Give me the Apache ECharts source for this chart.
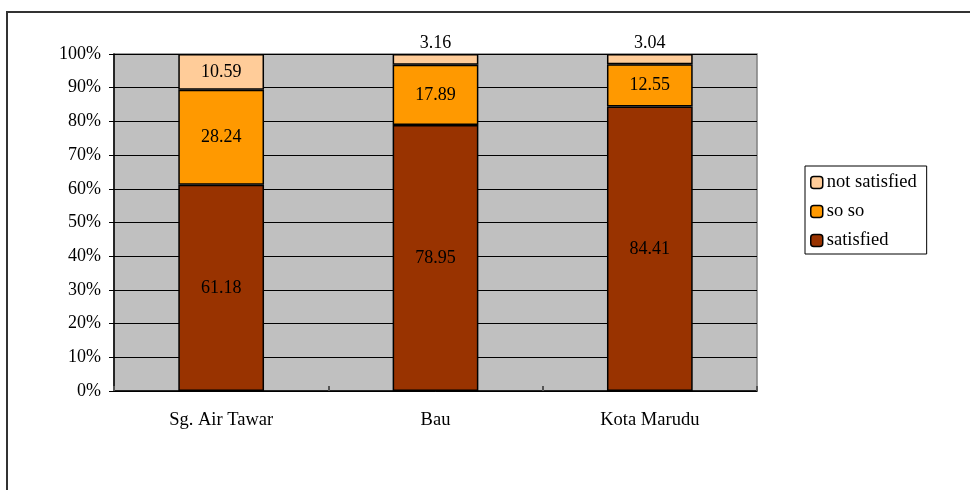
<!DOCTYPE html>
<html>
<head>
<meta charset="utf-8">
<script src="https://cdn.jsdelivr.net/npm/echarts@6/dist/echarts.min.js"></script>
<style>
  html, body { margin: 0; padding: 0; background: #fff; }
  #chart { width: 970px; height: 490px; }
</style>
</head>
<body>
<div id="chart"></div>
<script>
// Survey sites and satisfaction shares (percent)
const sites = ['Sg. Air Tawar', 'Bau', 'Kota Marudu'];
const satisfied = [61.18, 78.95, 84.41];
const soSo = [28.24, 17.89, 12.55];
const notSatisfied = [10.59, 3.16, 3.04];
const yTicks = [0, 10, 20, 30, 40, 50, 60, 70, 80, 90, 100];

const FONT = 'Liberation Serif';

// Small segments get their value printed above the bar
const notSatisfiedData = notSatisfied.map(v => ({
  value: v,
  label: v < 6 ? { position: 'top', distance: 2 } : { position: 'inside' }
}));

const chart = echarts.init(document.getElementById('chart'), null, { renderer: 'canvas' });

const barStyle = (color) => ({ color: color, borderColor: '#000', borderWidth: 1.5 });
const labelStyle = { show: true, position: 'inside', color: '#000', fontFamily: FONT, fontSize: 18, formatter: p => p.value.toFixed(2) };

chart.setOption({
  animation: false,
  backgroundColor: '#fff',
  textStyle: { fontFamily: FONT },
  graphic: [{
    type: 'rect',
    shape: { x: 7, y: 12, width: 1000, height: 520 },
    style: { fill: 'none', stroke: '#333', lineWidth: 2 },
    silent: true, z: 100
  }],
  grid: {
    left: 114, right: 213, top: 54, bottom: 99,
    show: true, backgroundColor: '#c0c0c0', borderColor: '#808080', borderWidth: 1.5
  },
  legend: {
    orient: 'vertical',
    left: 805, top: 166,
    padding: [7, 10, 4, 5],
    itemGap: 10,
    itemWidth: 12, itemHeight: 12,
    borderColor: '#000', borderWidth: 1,
    backgroundColor: '#fff',
    textStyle: { fontFamily: FONT, fontSize: 18.5, color: '#000', padding: [0, 0, 0, -1] },
    data: ['not satisfied', 'so so', 'satisfied'],
    itemStyle: { borderColor: '#000', borderWidth: 1.5 }
  },
  xAxis: {
    type: 'category',
    data: sites,
    axisLine: { lineStyle: { color: '#000', width: 1.5 } },
    axisTick: { show: true, inside: true, length: 5, lineStyle: { color: '#555', width: 2 } },
    axisLabel: { color: '#000', fontFamily: FONT, fontSize: 18.5, margin: 20 },
    z: 10
  },
  yAxis: {
    type: 'value',
    min: 0, max: 100, interval: 10,
    axisLine: { show: true, lineStyle: { color: '#000', width: 1.5 } },
    axisTick: { show: true, length: 5, lineStyle: { color: '#000' } },
    splitLine: { show: true, lineStyle: { color: '#000', width: 1 } },
    axisLabel: {
      color: '#000', fontFamily: FONT, fontSize: 18, margin: 13,
      formatter: v => (yTicks.includes(v) ? v + '%' : '')
    }
  },
  series: [
    {
      name: 'satisfied', type: 'bar', stack: 'total', data: satisfied,
      barWidth: '40%', itemStyle: barStyle('#993300'), label: labelStyle
    },
    {
      name: 'so so', type: 'bar', stack: 'total', data: soSo,
      itemStyle: barStyle('#ff9900'), label: labelStyle
    },
    {
      name: 'not satisfied', type: 'bar', stack: 'total', data: notSatisfiedData,
      itemStyle: barStyle('#ffcc99'), label: labelStyle
    }
  ]
});
</script>
</body>
</html>
